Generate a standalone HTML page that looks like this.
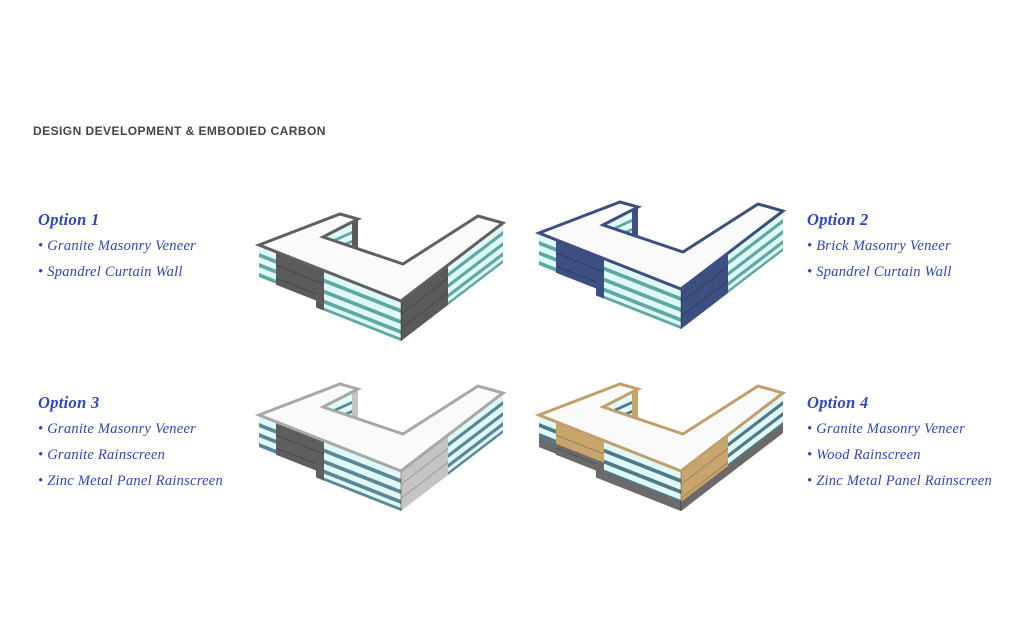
<!DOCTYPE html>
<html><head><meta charset="utf-8"><style>
html,body{margin:0;padding:0;background:#fff;}
body{width:1024px;height:624px;position:relative;overflow:hidden;}
.t{position:absolute;left:33px;top:124px;font:bold 12px "Liberation Sans",sans-serif;color:#444;letter-spacing:0.45px;}
.o{position:absolute;font-family:"Liberation Serif",serif;font-style:italic;color:#2f44c8;}
.o b{display:block;font-size:16.5px;height:26px;line-height:18px;letter-spacing:0.3px;}
.o div{font-size:14.5px;height:26px;line-height:18px;letter-spacing:0.25px;}
svg{position:absolute;left:0;top:0;}
</style></head><body>
<div class="t">DESIGN DEVELOPMENT &amp; EMBODIED CARBON</div>
<div class="o" style="left:38px;top:211px"><b>Option 1</b><div>• Granite Masonry Veneer</div><div>• Spandrel Curtain Wall</div></div>
<div class="o" style="left:807px;top:211px"><b>Option 2</b><div>• Brick Masonry Veneer</div><div>• Spandrel Curtain Wall</div></div>
<div class="o" style="left:38px;top:394px"><b>Option 3</b><div>• Granite Masonry Veneer</div><div>• Granite Rainscreen</div><div>• Zinc Metal Panel Rainscreen</div></div>
<div class="o" style="left:807px;top:394px"><b>Option 4</b><div>• Granite Masonry Veneer</div><div>• Wood Rainscreen</div><div>• Zinc Metal Panel Rainscreen</div></div>
<svg width="1024" height="624" viewBox="0 0 1024 624">
<defs>
<g id="bld">
  <polygon points="323,237 352,222 352,250 323,262" fill="#dff8f8"/>
  <polygon points="323,244 352,231 352,234 323,247" fill="var(--st)"/>
  <polygon points="323,252 352,240 352,243 323,255" fill="var(--st)"/>
  <polygon points="352,222 358,219 358,252 352,250" fill="var(--w2)"/>
  <g transform="translate(259,245) skewY(21.53)" stroke="none">
    <rect x="0" y="0" width="17" height="32" fill="#dff8f8"/>
    <rect x="0" y="8" width="17" height="4" fill="var(--st)"/>
    <rect x="0" y="18" width="17" height="4" fill="var(--st)"/>
    <rect x="0" y="28" width="17" height="4" fill="var(--st)"/>
    <rect x="0" y="22" width="17" height="10" fill="var(--base)"/>
    <rect x="17" y="0" width="48" height="33" fill="var(--w1)"/>
    <rect x="57" y="0" width="8" height="40" fill="var(--w1)"/>
    <rect x="17" y="22" width="48" height="11" fill="var(--base)"/>
    <rect x="57" y="22" width="8" height="18" fill="var(--base)"/>
    <rect x="17" y="13" width="48" height="0.8" fill="rgba(0,0,0,.3)"/>
    <rect x="17" y="26" width="40" height="0.8" fill="rgba(0,0,0,.3)"/>
    <rect x="65" y="0" width="77" height="40" fill="#dff8f8"/>
    <rect x="65" y="8" width="77" height="4" fill="var(--st)"/>
    <rect x="65" y="19" width="77" height="4" fill="var(--st)"/>
    <rect x="65" y="29" width="77" height="4" fill="var(--st)"/>
    <rect x="65" y="37" width="77" height="3" fill="var(--st)"/>
    <rect x="65" y="31" width="77" height="9" fill="var(--base)"/>
  </g>
  <g transform="translate(401,301) skewY(-37.41)">
    <rect x="0" y="0" width="47" height="40" fill="var(--w2)"/>
    <rect x="0" y="13" width="47" height="0.8" fill="rgba(0,0,0,.3)"/>
    <rect x="0" y="27" width="47" height="0.8" fill="rgba(0,0,0,.3)"/>
    <rect x="47" y="0" width="55" height="40" fill="#dff8f8"/>
    <rect x="47" y="8" width="55" height="4" fill="var(--st)"/>
    <rect x="47" y="19" width="55" height="4" fill="var(--st)"/>
    <rect x="47" y="29" width="55" height="4" fill="var(--st)"/>
    <rect x="47" y="37" width="55" height="3" fill="var(--st)"/>
    <rect x="0" y="31" width="102" height="9" fill="var(--base)"/>
  </g>
  <line x1="401" y1="301" x2="401" y2="341" stroke="rgba(0,0,0,.35)" stroke-width="1"/>
  <polygon points="259,245 340,214 358,219 323,237 403,264 478,216 503,223 401,301" fill="#fafafa" stroke="var(--e)" stroke-width="3" stroke-linejoin="miter"/>
</g>
</defs>
<use href="#bld" style="--e:#606060;--w1:#5a5a5a;--w2:#5a5a5a;--st:#5fa8a2;--base:transparent"/>
<use href="#bld" transform="translate(280,-12)" style="--e:#3d4f7e;--w1:#3d4f80;--w2:#3d4f80;--st:#5fa8a2;--base:transparent"/>
<use href="#bld" transform="translate(0,170)" style="--e:#a8a8a8;--w1:#5e5e5e;--w2:#c4c4c4;--st:#5a8696;--base:transparent"/>
<use href="#bld" transform="translate(280,170)" style="--e:#c0a06a;--w1:#c9a56e;--w2:#c9a56e;--st:#4f7888;--base:#6a6a6a"/>
</svg>
</body></html>
